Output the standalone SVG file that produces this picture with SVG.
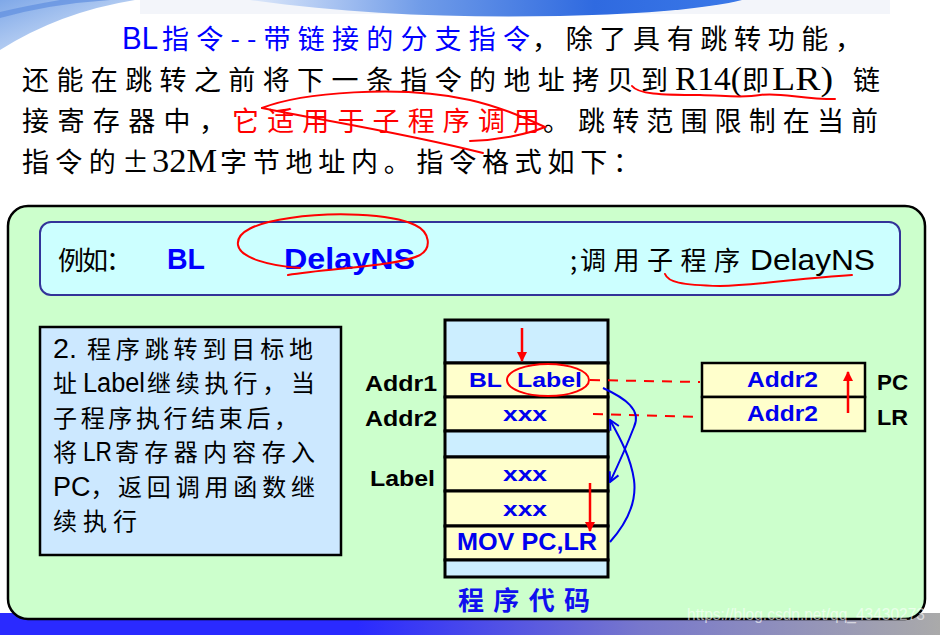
<svg xmlns="http://www.w3.org/2000/svg" width="940" height="635" viewBox="0 0 940 635">
<defs>
<style>
.cj{font-family:"Noto Sans CJK SC","Noto Sans",sans-serif;}
.hd{font-family:"Noto Sans CJK SC",sans-serif;font-size:27px;}
.ser{font-family:"Liberation Serif",serif;font-size:33px;}
.sb{font-family:"Liberation Sans",Arial,sans-serif;font-weight:bold;}
.sr{font-family:"Liberation Sans",Arial,sans-serif;}
.blue{fill:#0000ff;}
.blk{fill:#000;}
.red{fill:#ff0000;}
.cell{stroke:#000;stroke-width:3;}
.cb{fill:#cceeff;}
.cy{fill:#ffffcc;}
.rline{stroke:#ff0000;stroke-width:2.5;fill:none;}
.hand{stroke:#ff0000;stroke-width:2;fill:none;stroke-linecap:round;}
.dash{stroke:#ff0000;stroke-width:2;stroke-dasharray:10 8;fill:none;}
.bcurve{stroke:#0000ee;stroke-width:2;fill:none;}
</style>
<marker id="ra" viewBox="0 0 10 10" refX="9" refY="5" markerWidth="4" markerHeight="4" orient="auto" markerUnits="strokeWidth">
<path d="M0,0 L10,5 L0,10 Z" fill="#ff0000"/>
</marker>
<marker id="ba" viewBox="0 0 10 10" refX="9" refY="5" markerWidth="6" markerHeight="6" orient="auto" markerUnits="strokeWidth">
<path d="M1,1 L9,5 L1,9" fill="none" stroke="#0000ee" stroke-width="1.6"/>
</marker>
<linearGradient id="bot" x1="0" y1="0" x2="1" y2="0">
<stop offset="0" stop-color="#2a2aff"/>
<stop offset="0.38" stop-color="#2a2aff"/>
<stop offset="0.68" stop-color="#7777cc"/>
<stop offset="1" stop-color="#aaaaaa"/>
</linearGradient>
<linearGradient id="swoosh" x1="0" y1="0" x2="1" y2="0">
<stop offset="0" stop-color="#dde8fa"/>
<stop offset="0.35" stop-color="#6f9be8"/>
<stop offset="0.7" stop-color="#2f6ae0"/>
<stop offset="1" stop-color="#3a78e8"/>
</linearGradient>
<linearGradient id="corner" x1="0" y1="0" x2="1" y2="1">
<stop offset="0" stop-color="#7fa8e8"/>
<stop offset="1" stop-color="#e4eefb"/>
</linearGradient>
</defs>

<rect x="0" y="0" width="940" height="635" fill="#ffffff"/>
<g id="decoration">
<rect x="140" y="0" width="750" height="14" fill="#f3f5fa"/>
<path d="M0,0 L135,0 Q60,12 0,50 Z" fill="url(#corner)"/>
<path d="M0,18 Q50,4 110,0 L60,0 Q25,6 0,12 Z" fill="#5f8fe0" opacity="0.7"/>
<path d="M250,0 C350,14 450,18 560,16 C650,14 710,8 742,0 Z" fill="url(#swoosh)"/>
<rect x="0" y="613" width="940" height="22" fill="url(#bot)"/>
</g>

<g id="header">
<text class="sr blue" x="122" y="49" font-size="31" textLength="36" lengthAdjust="spacingAndGlyphs">BL</text>
<text class="hd blue" x="162" y="49" textLength="368" lengthAdjust="spacing">指令--带链接的分支指令</text>
<text class="hd blk" x="532" y="49" textLength="330" lengthAdjust="spacing">，除了具有跳转功能，</text>

<text class="hd blk" x="22" y="90" textLength="646" lengthAdjust="spacing">还能在跳转之前将下一条指令的地址拷贝到</text>
<text class="ser blk" x="675" y="90" textLength="67" lengthAdjust="spacingAndGlyphs">R14(</text>
<text class="hd blk" x="742" y="90">即</text>
<text class="ser blk" x="772" y="90" textLength="61" lengthAdjust="spacingAndGlyphs">LR)</text>
<text class="hd blk" x="853" y="90">链</text>

<text class="hd blk" x="22" y="131" textLength="204" lengthAdjust="spacing">接寄存器中，</text>
<text class="hd red" x="232" y="131" textLength="308" lengthAdjust="spacing">它适用于子程序调用</text>
<text class="hd blk" x="543" y="131">。</text>
<text class="hd blk" x="578" y="131" textLength="300" lengthAdjust="spacing">跳转范围限制在当前</text>

<text class="hd blk" x="22" y="172" textLength="127" lengthAdjust="spacing">指令的±</text>
<text class="ser blk" x="152" y="172" textLength="65" lengthAdjust="spacingAndGlyphs">32M</text>
<text class="hd blk" x="220" y="172" textLength="420" lengthAdjust="spacing">字节地址内。指令格式如下：</text>
</g>

<g id="panel">
<rect x="8" y="206" width="917" height="413" rx="20" ry="20" fill="#ccffcc" stroke="#000" stroke-width="2.5"/>
</g>

<g id="example">
<rect x="40" y="222" width="860" height="73" rx="11" ry="11" fill="#ccffff" stroke="#333399" stroke-width="2"/>
<text class="cj blk" x="58" y="270" font-size="26" textLength="74" lengthAdjust="spacing">例如：</text>
<text class="sb blue" x="167" y="269" font-size="29" textLength="38" lengthAdjust="spacingAndGlyphs">BL</text>
<text class="sb blue" x="284" y="269" font-size="29" textLength="131" lengthAdjust="spacingAndGlyphs">DelayNS</text>
<text class="cj blk" x="570" y="270" font-size="26">;</text>
<text class="cj blk" x="580" y="270" font-size="26" textLength="160" lengthAdjust="spacing">调用子程序</text>
<text class="sr blk" x="750" y="270" font-size="29" textLength="125" lengthAdjust="spacingAndGlyphs">DelayNS</text>
</g>

<g id="note">
<rect x="40" y="327" width="301" height="228" fill="#cce8ff" stroke="#000" stroke-width="2.5"/>
<g class="cj blk" font-size="24">
<text class="sr" x="53" y="358" font-size="27" textLength="24" lengthAdjust="spacingAndGlyphs">2.</text>
<text x="87" y="358" textLength="226" lengthAdjust="spacing">程序跳转到目标地</text>
<text x="53" y="392">址</text>
<text class="sr" x="83" y="392" font-size="27" textLength="62" lengthAdjust="spacingAndGlyphs">Label</text>
<text x="147" y="392" textLength="168" lengthAdjust="spacing">继续执行，当</text>
<text x="53" y="427" textLength="245" lengthAdjust="spacing">子程序执行结束后，</text>
<text x="53" y="461">将</text>
<text class="sr" x="83" y="461" font-size="27" textLength="29" lengthAdjust="spacingAndGlyphs">LR</text>
<text x="115" y="461" textLength="200" lengthAdjust="spacing">寄存器内容存入</text>
<text x="53" y="496"><tspan class="sr" font-size="27">PC</tspan>，</text>
<text x="118" y="496" textLength="197" lengthAdjust="spacing">返回调用函数继</text>
<text x="53" y="530" textLength="84" lengthAdjust="spacing">续执行</text>
</g>
</g>

<g id="memory">
<rect class="cell cb" x="445" y="320" width="163" height="43"/>
<rect class="cell cy" x="445" y="363" width="163" height="34"/>
<rect class="cell cy" x="445" y="397" width="163" height="34"/>
<rect class="cell cb" x="445" y="431" width="163" height="26"/>
<rect class="cell cy" x="445" y="457" width="163" height="34"/>
<rect class="cell cy" x="445" y="491" width="163" height="35"/>
<rect class="cell cy" x="445" y="526" width="163" height="34"/>
<rect class="cell cb" x="445" y="560" width="163" height="17"/>
<g class="sb" fill="#0000ee">
<text x="469" y="387" font-size="21" textLength="33" lengthAdjust="spacingAndGlyphs">BL</text>
<text x="517" y="387" font-size="21" textLength="65" lengthAdjust="spacingAndGlyphs">Label</text>
<text x="503" y="421" font-size="21" textLength="44" lengthAdjust="spacingAndGlyphs">xxx</text>
<text x="503" y="481" font-size="21" textLength="44" lengthAdjust="spacingAndGlyphs">xxx</text>
<text x="503" y="516" font-size="21" textLength="44" lengthAdjust="spacingAndGlyphs">xxx</text>
<text x="457" y="550" font-size="23" textLength="140" lengthAdjust="spacingAndGlyphs">MOV PC,LR</text>
</g>
<text class="cj" x="458" y="610" font-size="26" font-weight="bold" fill="#1010ee" textLength="132" lengthAdjust="spacing">程序代码</text>
</g>

<g id="addr-labels" class="sb blk">
<text x="365" y="391" font-size="22" textLength="72" lengthAdjust="spacingAndGlyphs">Addr1</text>
<text x="365" y="426" font-size="22" textLength="72" lengthAdjust="spacingAndGlyphs">Addr2</text>
<text x="370" y="486" font-size="22" textLength="65" lengthAdjust="spacingAndGlyphs">Label</text>
</g>

<g id="registers">
<rect x="702" y="363" width="163" height="34" fill="#ffffcc" stroke="#000" stroke-width="2.5"/>
<rect x="702" y="397" width="163" height="34" fill="#ffffcc" stroke="#000" stroke-width="2.5"/>
<text class="sb" x="747" y="387" font-size="22" fill="#0000ee" textLength="71" lengthAdjust="spacingAndGlyphs">Addr2</text>
<text class="sb" x="747" y="421" font-size="22" fill="#0000ee" textLength="71" lengthAdjust="spacingAndGlyphs">Addr2</text>
<text class="sb blk" x="877" y="390" font-size="22" textLength="31" lengthAdjust="spacingAndGlyphs">PC</text>
<text class="sb blk" x="877" y="425" font-size="22" textLength="31" lengthAdjust="spacingAndGlyphs">LR</text>
</g>

<g id="connectors">
<line class="rline" x1="522" y1="328" x2="522" y2="361" marker-end="url(#ra)"/>
<line class="rline" x1="590" y1="483" x2="590" y2="531" marker-end="url(#ra)"/>
<line class="rline" x1="848" y1="413" x2="848" y2="372" marker-end="url(#ra)"/>
<path class="dash" d="M590,380 L700,382"/>
<path class="dash" d="M593,414 L700,417"/>
<path class="bcurve" d="M603,388 C625,398 642,410 634,427 C627,445 619,463 610,482" marker-end="url(#ba)"/>
<path class="bcurve" d="M610,542 C626,524 637,503 634,480 C631,458 620,438 610,420" marker-end="url(#ba)"/>
</g>

<g id="annotations">
<ellipse class="hand" cx="548" cy="380" rx="41" ry="16"/>
<path class="hand" d="M288,275 C330,268 400,266 420,255 C432,248 430,232 415,225 C390,213 330,212 290,218 C255,223 236,232 238,245 C240,258 270,266 300,268"/>
<path class="hand" d="M665,274 C668,282 680,285 720,286 C760,285 800,278 852,275"/>
<path class="hand" d="M632,86 C638,94 660,95 700,95 C730,96 745,98 760,95 C780,92 800,99 835,99"/>
<path class="hand" d="M262,108 C300,93 400,84 470,100 C505,108 530,120 545,127 C528,134 500,140 470,141"/>
<path class="hand" d="M262,108 C320,120 400,132 483,153"/>
</g>

<text class="sr" x="687" y="620" font-size="17" fill="#ffffff" fill-opacity="0.6" textLength="238" lengthAdjust="spacingAndGlyphs">https://blog.csdn.net/qq_43430273</text>
</svg>
